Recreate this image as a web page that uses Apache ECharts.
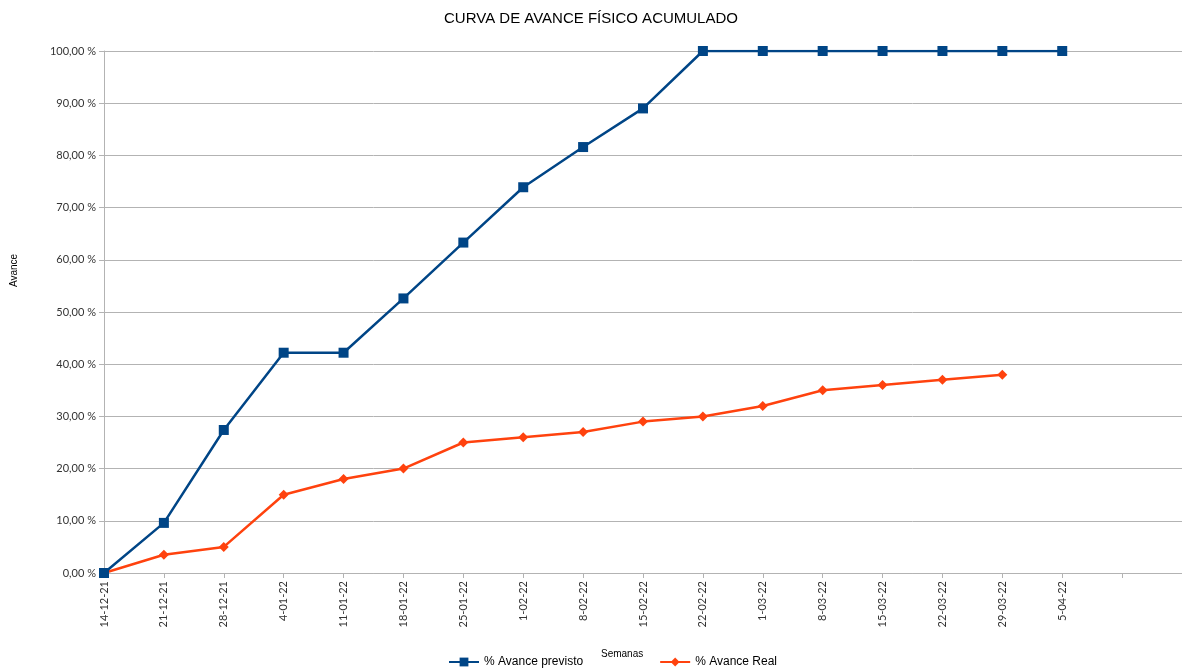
<!DOCTYPE html>
<html>
<head>
<meta charset="utf-8">
<script src="https://cdn.jsdelivr.net/npm/echarts@6/dist/echarts.min.js"></script>
<style>
  html, body { margin: 0; padding: 0; background: #fff; }
  #chart { width: 1182px; height: 668px; }
</style>
</head>
<body>
<div id="chart"></div>
<script>
// semanas (two empty slots at the end of the axis)
var semanas = ['14-12-21', '21-12-21', '28-12-21', '4-01-22', '11-01-22', '18-01-22', '25-01-22',
  '1-02-22', '8-02-22', '15-02-22', '22-02-22', '1-03-22', '8-03-22', '15-03-22', '22-03-22',
  '29-03-22', '5-04-22', '', ''];
var avancePrevisto = [0, 9.6, 27.4, 42.2, 42.2, 52.6, 63.3, 73.9, 81.6, 89, 100, 100, 100, 100, 100, 100, 100];
var avanceReal = [0, 3.5, 5, 15, 18, 20, 25, 26, 27, 29, 30, 32, 35, 36, 37, 38];
var yTicks = [0, 10, 20, 30, 40, 50, 60, 70, 80, 90, 100];

var myChart = echarts.init(document.getElementById('chart'));
var option = {
  animation: false,
  textStyle: { fontFamily: 'Liberation Sans' },
  title: [{
    text: 'CURVA DE AVANCE FÍSICO ACUMULADO',
    left: 'center',
    top: 6,
    textStyle: { fontSize: 15, fontWeight: 'normal', color: '#000', fontFamily: 'Liberation Sans' }
  }, {
    text: 'Semanas',
    left: 596,
    top: 644,
    textStyle: { fontSize: 10, fontWeight: 'normal', color: '#000', fontFamily: 'Liberation Sans' }
  }],
  graphic: [{
    type: 'text',
    x: 9,
    y: 287,
    rotation: Math.PI / 2,
    style: { text: 'Avance', fontSize: 10, fill: '#000', fontFamily: 'Liberation Sans' }
  }],
  legend: {
    top: 651,
    left: 443,
    itemGap: 76,
    itemWidth: 30,
    itemHeight: 11,
    textStyle: { fontSize: 12, color: '#000' },
    data: ['% Avance previsto', '% Avance Real']
  },
  grid: { left: 104, right: 0, top: 51, bottom: 95, containLabel: false },
  xAxis: {
    type: 'category',
    data: semanas,
    boundaryGap: false,
    axisLine: { lineStyle: { color: '#b3b3b3' } },
    axisTick: { show: true, length: 5, lineStyle: { color: '#b3b3b3' }, interval: 0 },
    axisLabel: { rotate: 90, interval: 0, color: '#333', fontSize: 11, margin: 8, fontFamily: 'Lato' },
    splitLine: { show: false }
  },
  yAxis: {
    type: 'value',
    min: yTicks[0],
    max: yTicks[yTicks.length - 1],
    interval: 10,
    axisLine: { show: true, lineStyle: { color: '#b3b3b3' } },
    axisTick: { show: true, length: 5, lineStyle: { color: '#b3b3b3' } },
    axisLabel: {
      color: '#333', fontSize: 11, margin: 8, fontFamily: 'Lato', showMinLabel: true,
      formatter: function (v) { return v.toFixed(2).replace('.', ',') + ' %'; }
    },
    splitLine: { show: true, lineStyle: { color: '#b3b3b3', width: 1 } }
  },
  series: [{
    name: '% Avance previsto',
    type: 'line',
    data: avancePrevisto,
    symbol: 'rect',
    symbolSize: 10,
    lineStyle: { color: '#004586', width: 2.5 },
    itemStyle: { color: '#004586' },
    z: 3
  }, {
    name: '% Avance Real',
    type: 'line',
    data: avanceReal,
    symbol: 'diamond',
    symbolSize: 10,
    lineStyle: { color: '#ff420e', width: 2.5 },
    itemStyle: { color: '#ff420e' },
    z: 2
  }]
};
myChart.setOption(option);
</script>
</body>
</html>
